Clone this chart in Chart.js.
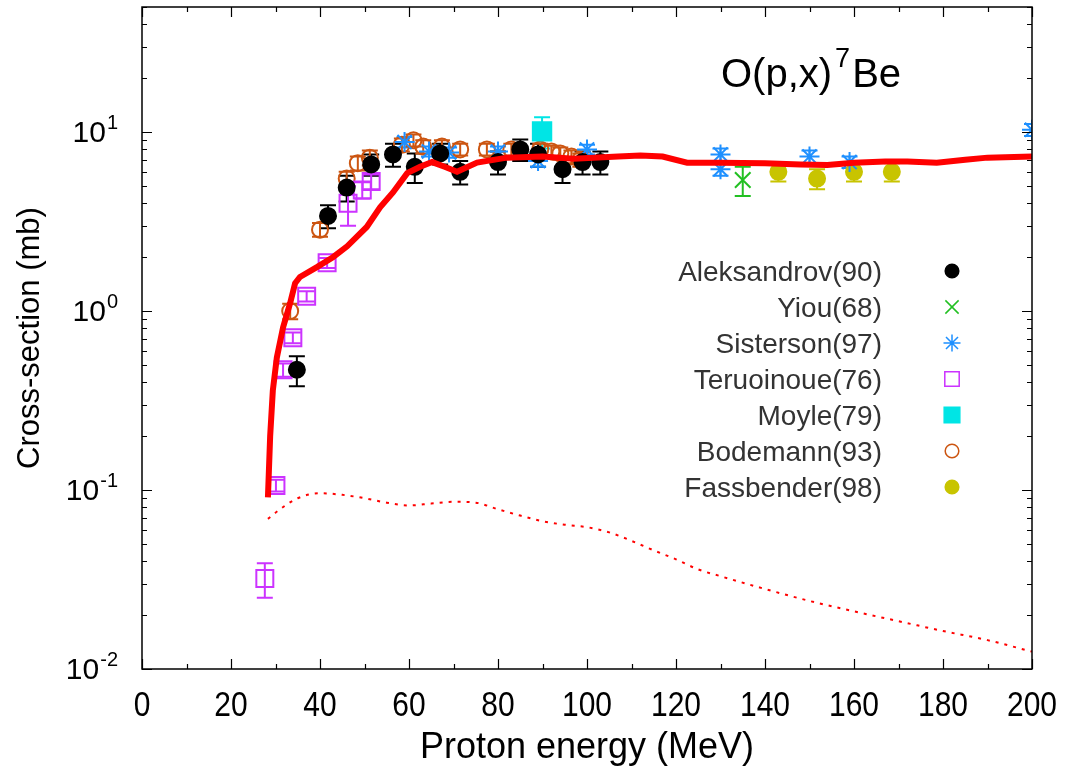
<!DOCTYPE html>
<html>
<head>
<meta charset="utf-8">
<script src="https://cdn.jsdelivr.net/npm/chart.js@4.4.0/dist/chart.umd.min.js"></script>
<style>
html, body { margin: 0; padding: 0; background: #fff; }
</style>
</head>
<body>
<canvas id="chart" width="1065" height="780"></canvas>
<script>
// model calculations (energy MeV, cross-section mb)
const calcEnergy = [28.3, 28.8, 29.4, 30.3, 31.7, 33.3, 34.4, 35.5, 39.3, 42.9, 46.1, 50.5, 53.5, 56.4, 59.6, 62.5, 65.2, 68, 70.8, 75.3, 82, 90, 97, 107, 112, 117, 122.5, 130, 140, 148, 154, 160, 167, 172, 178.6, 185, 190, 200];
const calcXs = [0.091, 0.2, 0.36, 0.55, 0.81, 1.11, 1.43, 1.55, 1.76, 2.0, 2.3, 2.95, 3.8, 4.6, 5.9, 6.4, 6.8, 6.4, 6.0, 6.75, 7.2, 7.3, 7.1, 7.3, 7.4, 7.3, 6.75, 6.75, 6.7, 6.6, 6.55, 6.75, 6.85, 6.85, 6.75, 7.0, 7.2, 7.3];
const calc2Energy = [28.3, 31, 35, 40, 45, 50, 55, 60, 65, 70, 75, 80, 85, 90, 95, 100, 105, 110, 115, 120, 125, 130, 140, 150, 160, 170, 180, 190, 200];
const calc2Xs = [0.069, 0.078, 0.09, 0.096, 0.094, 0.09, 0.085, 0.082, 0.084, 0.086, 0.085, 0.078, 0.072, 0.067, 0.064, 0.062, 0.058, 0.052, 0.046, 0.041, 0.036, 0.033, 0.028, 0.024, 0.021, 0.0185, 0.0163, 0.0145, 0.0125];

// experiments: [energy, cross-section, error]
const aleksandrov = [[34.8, 0.47, 0.09], [41.8, 3.4, 0.5], [46, 4.9, 0.8], [51.5, 6.6, 0.9], [56.4, 7.5, 1.1], [61.3, 6.4, 1.2], [67, 7.6, 1.0], [71.5, 6.0, 0.9], [80, 6.8, 1.0], [85, 8.0, 1.1], [89, 7.5, 1.1], [94.5, 6.2, 1.0], [99, 6.8, 1.0], [103, 6.8, 1.0]];
const yiou = [[135, 5.4, 1.0]];
const sisterson = [[59, 8.8, 0.6], [64.5, 7.8, 0.5], [69, 7.7, 0.5], [80, 7.8, 0.5], [89, 6.9, 0.5], [100, 8.0, 0.5], [130, 7.5, 0.6], [130, 6.2, 0.5], [150, 7.3, 0.6], [159, 6.8, 0.5], [200, 10.3, 0.8]];
const teruoinoue = [[27.6, 0.032, 0.007], [30.1, 0.106, 0.008], [31.7, 0.47, 0.04], [33.9, 0.71, 0.05], [37, 1.21, 0.08], [41.6, 1.86, 0.12], [46.3, 4.0, 1.0], [49.5, 4.75, 0.5], [51.5, 5.3, 0.5]];
const moyle = [[89.9, 10.1, 2.0]];
const bodemann = [[33.3, 1.0, 0.1], [40, 2.85, 0.25], [46, 5.5, 0.5], [48.5, 6.7, 0.6], [51.2, 7.2, 0.7], [58.4, 8.5, 0.7], [61, 9.0, 0.7], [63.2, 8.3, 0.7], [67.4, 8.3, 0.7], [71.5, 8.0, 0.6], [77.5, 8.0, 0.6], [83, 8.0, 0.6], [89.5, 8.0, 0.6], [92, 7.8, 0.6], [94, 7.6, 0.6], [96.5, 7.3, 0.6], [98.5, 7.0, 0.6]];
const fassbender = [[143, 6.0, 0.7], [151.7, 5.5, 0.7], [160, 6.0, 0.7], [168.5, 6.0, 0.7]];

const xTicks = [0, 20, 40, 60, 80, 100, 120, 140, 160, 180, 200];
const yTicks = [0.01, 0.1, 1, 10];
const yTickExp = ['-2', '-1', '0', '1'];

const FONT = "'Liberation Sans', Arial, sans-serif";

function pts(rows) {
    return rows.map(r => ({ x: r[0], y: r[1], err: r[2] }));
}

function expSet(label, rows, color, style, radius, filled) {
    return {
        label: label,
        data: pts(rows),
        showLine: false,
        pointStyle: style,
        pointRadius: radius,
        pointHoverRadius: radius,
        borderColor: color,
        backgroundColor: filled ? color : 'rgba(0,0,0,0)',
        pointBorderWidth: 2,
        errorColor: color,
        inLegend: true,
        order: 1
    };
}

const datasets = [
    {
        label: 'calc',
        data: calcEnergy.map((e, i) => ({ x: e, y: calcXs[i] })),
        showLine: true,
        borderColor: '#ff0000',
        borderWidth: 6,
        pointRadius: 0,
        tension: 0,
        order: 0
    },
    {
        label: 'calc2',
        data: calc2Energy.map((e, i) => ({ x: e, y: calc2Xs[i] })),
        showLine: true,
        borderColor: '#ff0000',
        borderWidth: 2,
        borderDash: [3, 6],
        pointRadius: 0,
        cubicInterpolationMode: 'monotone',
        order: 0
    },
    expSet('Aleksandrov(90)', aleksandrov, '#000000', 'circle', 8, true),
    expSet('Yiou(68)', yiou, '#22c022', 'crossRot', 11, false),
    expSet('Sisterson(97)', sisterson, '#1e90ff', 'star', 10, false),
    expSet('Teruoinoue(76)', teruoinoue, '#cc33ff', 'rect', 12, false),
    expSet('Moyle(79)', moyle, '#00e5e5', 'rect', 13, true),
    expSet('Bodemann(93)', bodemann, '#cc5511', 'circle', 8, false),
    expSet('Fassbender(98)', fassbender, '#c8c400', 'circle', 8, true)
];

function stretchText(ctx, text, x, y, sy) {
    ctx.save();
    ctx.translate(x, y);
    ctx.scale(1, sy);
    ctx.fillText(text, 0, 0);
    ctx.restore();
}

const errorBars = {
    id: 'errorBars',
    beforeDatasetsDraw(chart) {
        const ctx = chart.ctx;
        const xs = chart.scales.x, ys = chart.scales.y;
        const a = chart.chartArea;
        ctx.save();
        ctx.beginPath();
        ctx.rect(a.left, a.top, a.right - a.left, a.bottom - a.top);
        ctx.clip();
        ctx.lineWidth = 2;
        chart.data.datasets.forEach(ds => {
            if (!ds.errorColor) return;
            ctx.strokeStyle = ds.errorColor;
            ds.data.forEach(p => {
                const px = xs.getPixelForValue(p.x);
                const top = ys.getPixelForValue(p.y + p.err);
                const bot = ys.getPixelForValue(Math.max(p.y - p.err, 0.001));
                ctx.beginPath();
                ctx.moveTo(px, top); ctx.lineTo(px, bot);
                ctx.moveTo(px - 8, top); ctx.lineTo(px + 8, top);
                ctx.moveTo(px - 8, bot); ctx.lineTo(px + 8, bot);
                ctx.stroke();
            });
        });
        ctx.restore();
    }
};

const frame = {
    id: 'frame',
    afterDatasetsDraw(chart) {
        const ctx = chart.ctx;
        const a = chart.chartArea;
        const xs = chart.scales.x, ys = chart.scales.y;
        ctx.save();
        ctx.strokeStyle = '#000';
        ctx.lineWidth = 1.5;
        ctx.strokeRect(a.left, a.top, a.right - a.left, a.bottom - a.top);
        ctx.lineWidth = 1.2;
        ctx.beginPath();
        for (let v = 0; v <= 200; v += 10) {
            const px = Math.round(xs.getPixelForValue(v)) + 0.5;
            const len = v % 20 === 0 ? 10 : 5;
            ctx.moveTo(px, a.bottom); ctx.lineTo(px, a.bottom - len);
            ctx.moveTo(px, a.top); ctx.lineTo(px, a.top + len);
        }
        for (let d = 0.01; d < 50; d *= 10) {
            for (let m = 1; m <= 9; m++) {
                const v = d * m;
                if (v > 50) break;
                const py = Math.round(ys.getPixelForValue(v)) + 0.5;
                const len = m === 1 ? 10 : 5;
                ctx.moveTo(a.left, py); ctx.lineTo(a.left + len, py);
                ctx.moveTo(a.right, py); ctx.lineTo(a.right - len, py);
            }
        }
        ctx.stroke();

        // tick labels
        ctx.fillStyle = '#000';
        ctx.font = '30px ' + FONT;
        ctx.textAlign = 'center';
        ctx.textBaseline = 'alphabetic';
        xTicks.forEach(v => {
            stretchText(ctx, String(v), xs.getPixelForValue(v), 716, 1.15);
        });
        yTicks.forEach((v, i) => {
            const py = ys.getPixelForValue(v);
            ctx.font = '20px ' + FONT;
            const ew = ctx.measureText(yTickExp[i]).width;
            ctx.textAlign = 'right';
            ctx.fillText(yTickExp[i], 118, py - 3);
            ctx.font = '30px ' + FONT;
            ctx.fillText('10', 117 - ew, py + 10);
        });

        // axis titles
        ctx.textAlign = 'center';
        ctx.font = '36px ' + FONT;
        stretchText(ctx, 'Proton energy (MeV)', (a.left + a.right) / 2, 758, 1.0);
        ctx.save();
        ctx.translate(39, (a.top + a.bottom) / 2);
        ctx.rotate(-Math.PI / 2);
        ctx.font = '31px ' + FONT;
        ctx.fillText('Cross-section (mb)', 0, 0);
        ctx.restore();

        // reaction label
        ctx.textAlign = 'left';
        ctx.font = '40px ' + FONT;
        let tx = 721;
        ctx.fillText('O(p,x)', tx, 87);
        tx += ctx.measureText('O(p,x)').width + 3;
        ctx.font = '27px ' + FONT;
        ctx.fillText('7', tx, 67);
        tx += ctx.measureText('7').width + 2;
        ctx.font = '40px ' + FONT;
        ctx.fillText('Be', tx, 87);

        // legend
        const H = Chart.helpers;
        let row = 0;
        chart.data.datasets.forEach(ds => {
            if (!ds.inLegend) return;
            const cy = 271 + row * 36;
            ctx.fillStyle = '#333';
            ctx.font = '28px ' + FONT;
            ctx.textAlign = 'right';
            ctx.fillText(ds.label, 882, cy + 10);
            ctx.fillStyle = ds.backgroundColor;
            ctx.strokeStyle = ds.borderColor;
            ctx.lineWidth = 1.5;
            H.drawPoint(ctx, { pointStyle: ds.pointStyle, radius: ds.pointRadius * 0.85, rotation: 0, borderWidth: 1.5 }, 952, cy);
            row++;
        });
        ctx.restore();
    }
};

new Chart(document.getElementById('chart'), {
    type: 'scatter',
    data: { datasets: datasets },
    options: {
        responsive: false,
        animation: false,
        layout: { autoPadding: false, padding: { left: 142, right: 33, top: 7, bottom: 111 } },
        plugins: { legend: { display: false }, tooltip: { enabled: false } },
        scales: {
            x: { type: 'linear', min: 0, max: 200, display: false },
            y: { type: 'logarithmic', min: 0.01, max: 50, display: false }
        }
    },
    plugins: [errorBars, frame]
});
</script>
</body>
</html>
